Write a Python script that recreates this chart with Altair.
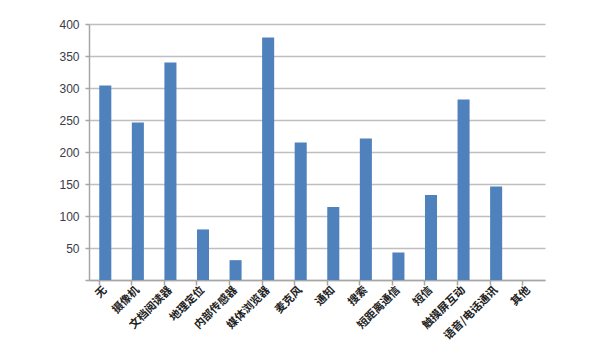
import altair as alt
import pandas as pd

categories = ["无", "摄像机", "文档阅读器", "地理定位", "内部传感器", "媒体浏览器", "麦克风",
              "通知", "搜索", "短距离通信", "短信", "触摸屏互动", "语音/电话通讯", "其他"]
values = [304, 246, 340, 79, 31, 379, 215, 114, 221, 43, 133, 282, 146, None]

df = pd.DataFrame({"category": categories, "value": values})

xscale = alt.Scale(domain=categories, paddingInner=0.63)
yscale = alt.Scale(domain=[0, 400])

bars = alt.Chart(df).mark_bar(color="#4F81BD").encode(
    x=alt.X("category:N", sort=categories, scale=xscale, title=None,
            axis=alt.Axis(orient="bottom", labelAngle=-45, labelAlign="right", labelBaseline="middle",
                          ticks=False, labelPadding=8, labelFont="Noto Sans CJK SC",
                          labelFontSize=11, labelColor="#222222", labelFontWeight="bold",
                          domainColor="#A6A6A6", domainWidth=1.5, grid=False, labelOverlap=False)),
    y=alt.Y("value:Q", scale=yscale, title=None,
            axis=alt.Axis(values=[0, 50, 100, 150, 200, 250, 300, 350, 400],
                          labelExpr="datum.value == 0 ? '' : datum.label",
                          labelFont="Liberation Sans", labelFontSize=12, labelColor="#3a3a4a",
                          tickColor="#A6A6A6", tickSize=4, tickWidth=1.5, labelPadding=6,
                          domainColor="#A6A6A6", domainWidth=1.5,
                          gridColor="#BFBFBF", gridWidth=1.5)),
)

ticks = alt.Chart(df).mark_bar(opacity=0).encode(
    x=alt.X("category:N", sort=categories, scale=xscale, title=None,
            axis=alt.Axis(orient="bottom", bandPosition=0, labels=False, domain=False,
                          ticks=True, tickSize=5, tickColor="#A6A6A6", tickWidth=1.5, grid=False)),
)

chart = alt.layer(bars, ticks).resolve_axis(x="independent").properties(
    width=456, height=256,
    autosize=alt.AutoSizeParams(type="none"),
    padding={"left": 89, "top": 24, "right": 55, "bottom": 80},
).configure(background="white").configure_view(stroke=None)

chart.save("out.html", embed_options={"renderer": "svg", "actions": False})
